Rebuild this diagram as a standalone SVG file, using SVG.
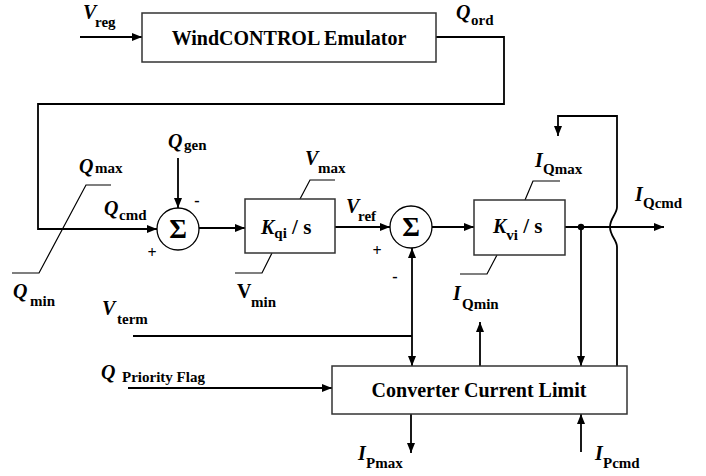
<svg xmlns="http://www.w3.org/2000/svg" width="706" height="476" viewBox="0 0 706 476">
<defs>
<marker id="ah" viewBox="0 0 10 8" refX="10" refY="4" markerWidth="10" markerHeight="8" markerUnits="userSpaceOnUse" orient="auto">
<path d="M0,0 L10,4 L0,8 Z" fill="#000"/>
</marker>
<style>
.box{fill:#fff;stroke:#333;stroke-width:1.5}
.ln{fill:none;stroke:#000;stroke-width:1.8}
.lim{fill:none;stroke:#000;stroke-width:1.2}
.sum{fill:#fff;stroke:#000;stroke-width:1.3}
text{font-family:"Liberation Serif","Times New Roman",serif;font-weight:bold;fill:#000}
.v{font-style:italic;font-size:20px}
.s{font-size:15px}
.t{font-size:20px}
.sig{font-size:27px}
.pm{font-size:16px}
</style>
</defs>

<g id="connectors">
<line class="ln" x1="80" y1="37" x2="142" y2="37" marker-end="url(#ah)"/>
<polyline class="ln" points="436,37 504,37 504,104 38,104 38,229 157,229" marker-end="url(#ah)"/>
<line class="ln" x1="178" y1="158" x2="178" y2="208" marker-end="url(#ah)"/>
<line class="ln" x1="199" y1="228" x2="245" y2="228" marker-end="url(#ah)"/>
<line class="ln" x1="335" y1="227" x2="390" y2="227" marker-end="url(#ah)"/>
<line class="ln" x1="432" y1="227" x2="474" y2="227" marker-end="url(#ah)"/>
<line class="ln" x1="565" y1="227" x2="664" y2="227" marker-end="url(#ah)"/>
<circle cx="581" cy="227" r="3.2" fill="#000"/>
<line class="ln" x1="581" y1="227" x2="581" y2="366" marker-end="url(#ah)"/>
<path class="ln" d="M617,366 L617,247 C617,240 610,236 610,227 C610,218 617,214 617,207 L617,116 L558,116 L558,136" marker-end="url(#ah)"/>
<line class="ln" x1="133" y1="336" x2="412" y2="336"/>
<line class="ln" x1="412" y1="336" x2="412" y2="248" marker-end="url(#ah)"/>
<line class="ln" x1="412" y1="336" x2="412" y2="366" marker-end="url(#ah)"/>
<line class="ln" x1="128" y1="388" x2="332" y2="388" marker-end="url(#ah)"/>
<line class="ln" x1="480" y1="366" x2="480" y2="322" marker-end="url(#ah)"/>
<line class="ln" x1="411" y1="414" x2="411" y2="453" marker-end="url(#ah)"/>
<line class="ln" x1="581" y1="452" x2="581" y2="414" marker-end="url(#ah)"/>
</g>

<g id="limiters">
<polyline class="lim" points="12,273 39,273 86,185 111,185"/>
<polyline class="lim" points="300,199 310,180 335,180"/>
<polyline class="lim" points="272,253 262,273 235,273"/>
<polyline class="lim" points="525,200 533,181 560,181"/>
<polyline class="lim" points="497,255 487,274 460,274"/>
</g>

<g id="windcontrol">
<rect class="box" x="142" y="13" width="294" height="49"/>
<text class="t" x="289" y="45" text-anchor="middle">WindCONTROL Emulator</text>
</g>

<g id="sum1">
<circle class="sum" cx="178" cy="229" r="21"/>
<text class="sig" x="178" y="238" text-anchor="middle">Σ</text>
<text class="pm" x="197" y="206" text-anchor="middle">-</text>
<text class="pm" x="152" y="258" text-anchor="middle">+</text>
</g>

<g id="kqi">
<rect class="box" x="245" y="199" width="90" height="54"/>
<text x="261" y="234"><tspan class="v" font-size="22">K</tspan><tspan class="s" font-size="16" dy="4">qi</tspan><tspan font-size="21" dy="-4"> / s</tspan></text>
</g>

<g id="sum2">
<circle class="sum" cx="411" cy="227" r="21"/>
<text class="sig" x="411" y="236" text-anchor="middle">Σ</text>
<text class="pm" x="377" y="256" text-anchor="middle">+</text>
<text class="pm" x="395" y="282" text-anchor="middle">-</text>
</g>

<g id="kvi">
<rect class="box" x="474" y="200" width="91" height="55"/>
<text x="493" y="233"><tspan class="v" font-size="22">K</tspan><tspan class="s" font-size="16" dy="7">vi</tspan><tspan font-size="21" dy="-7"> / s</tspan></text>
</g>

<g id="converter">
<rect class="box" x="332" y="366" width="295" height="48"/>
<text class="t" x="479" y="397" text-anchor="middle">Converter Current Limit</text>
</g>

<g id="labels">
<text x="83" y="19"><tspan class="v">V</tspan><tspan class="s" x="95" y="27">reg</tspan></text>
<text x="456" y="19"><tspan class="v">Q</tspan><tspan class="s" x="471" y="25">ord</tspan></text>
<text x="168" y="148"><tspan class="v">Q</tspan><tspan class="s" x="184" y="150">gen</tspan></text>
<text x="79" y="173"><tspan class="v">Q</tspan><tspan class="s" font-size="16" x="95" y="173">max</tspan></text>
<text x="104" y="215"><tspan class="v">Q</tspan><tspan class="s" x="119" y="220">cmd</tspan></text>
<text x="13" y="298"><tspan class="v">Q</tspan><tspan class="s" x="30" y="306">min</tspan></text>
<text x="305" y="165"><tspan class="v">V</tspan><tspan class="s" x="318" y="173">max</tspan></text>
<text x="237" y="298"><tspan font-size="20">V</tspan><tspan class="s" x="251" y="307">min</tspan></text>
<text x="346" y="213"><tspan class="v">V</tspan><tspan class="s" x="358" y="221">ref</tspan></text>
<text x="535" y="167"><tspan class="v">I</tspan><tspan class="s" x="543" y="174">Qmax</tspan></text>
<text x="635" y="201"><tspan class="v">I</tspan><tspan class="s" x="643" y="208">Qcmd</tspan></text>
<text x="453" y="300"><tspan class="v">I</tspan><tspan class="s" x="462" y="309">Qmin</tspan></text>
<text x="102" y="315"><tspan class="v">V</tspan><tspan class="s" x="117" y="324">term</tspan></text>
<text x="101" y="379"><tspan class="v">Q</tspan><tspan class="s" x="122" y="382">Priority Flag</tspan></text>
<text x="358" y="460"><tspan class="v">I</tspan><tspan class="s" x="366" y="468">Pmax</tspan></text>
<text x="595" y="460"><tspan class="v">I</tspan><tspan class="s" x="603" y="468">Pcmd</tspan></text>
</g>
</svg>
